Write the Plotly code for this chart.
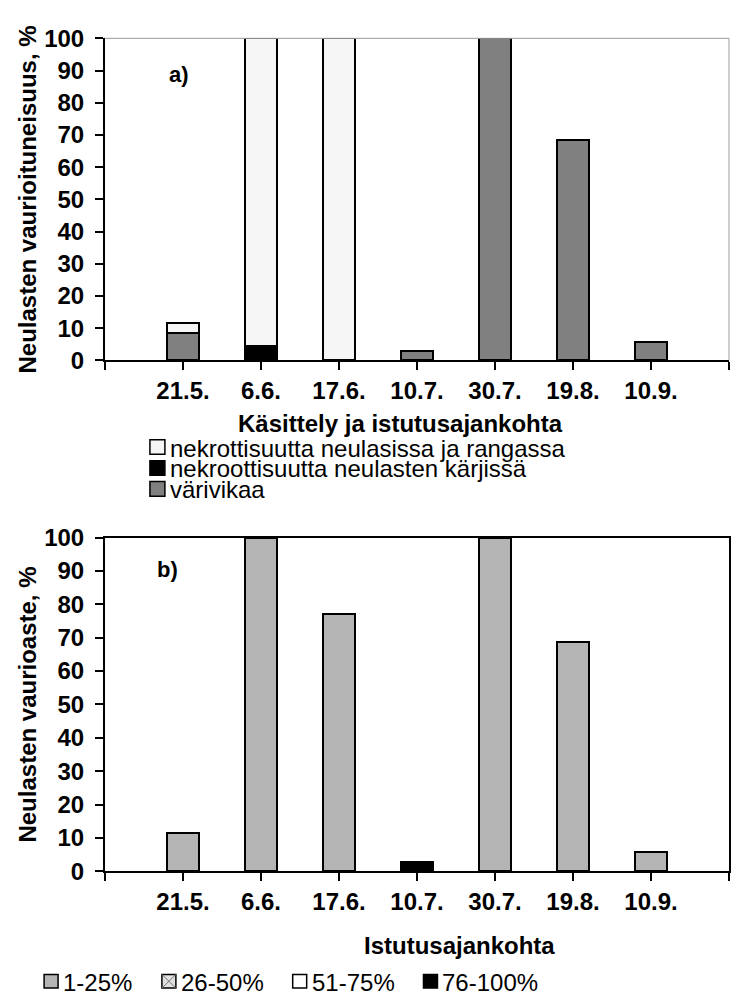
import plotly.graph_objects as go

# ---------------- data ----------------
categories = ["21.5.", "6.6.", "17.6.", "10.7.", "30.7.", "19.8.", "10.9."]

# a) Käsittely ja istutusajankohta
a_varivikaa = [8.5, 0, 0, 2.8, 100, 68.5, 5.6]
a_karjissa = [0, 4.6, 0, 0, 0, 0, 0]
a_rangassa = [3.0, 95.4, 100, 0, 0, 0, 0]
a_names = ["nekrottisuutta neulasissa ja rangassa",
           "nekroottisuutta neulasten kärjissä",
           "värivikaa"]

# b) Istutusajankohta
b_1_25 = [11.6, 100, 77.1, 0, 100, 68.6, 5.8]
b_26_50 = [0, 0, 0, 0, 0, 0, 0]
b_51_75 = [0, 0, 0, 0, 0, 0, 0]
b_76_100 = [0, 0, 0, 2.9, 0, 0, 0]
b_names = ["1-25%", "26-50%", "51-75%", "76-100%"]

ytick_vals = [0, 10, 20, 30, 40, 50, 60, 70, 80, 90, 100]

# ---------------- layout helpers ----------------
W, H = 731, 1005
ML, MR = 105, 1
PW = W - ML - MR
FONT = "Liberation Sans, Arial, sans-serif"


def px(x):
    return (x - ML) / PW


def py(y):
    return 1 - y / H


def nz(vals):
    return [v if v else None for v in vals]


xpos = list(range(len(categories)))
tickvals_x = [-1] + xpos + [len(categories)]
ticktext_x = [""] + categories + [""]

fig = go.Figure()
LW = 2

# a) stacked: gray bottom, black, white top
fig.add_bar(x=xpos, y=nz(a_varivikaa), width=0.4, name=a_names[2],
            marker=dict(color="#808080", line=dict(color="black", width=LW)),
            xaxis="x", yaxis="y")
fig.add_bar(x=xpos, y=nz(a_karjissa), width=0.4, name=a_names[1],
            marker=dict(color="black", line=dict(color="black", width=LW)),
            xaxis="x", yaxis="y")
fig.add_bar(x=xpos, y=nz(a_rangassa), width=0.4, name=a_names[0],
            marker=dict(color="#f6f6f6", line=dict(color="black", width=LW)),
            xaxis="x", yaxis="y")

# b)
fig.add_bar(x=xpos, y=nz(b_1_25), width=0.4, name=b_names[0],
            marker=dict(color="#b4b4b4", line=dict(color="black", width=LW)),
            xaxis="x2", yaxis="y2")
fig.add_bar(x=xpos, y=nz(b_26_50), width=0.4, name=b_names[1],
            marker=dict(color="#d8d8d8", line=dict(color="black", width=LW)),
            xaxis="x2", yaxis="y2")
fig.add_bar(x=xpos, y=nz(b_51_75), width=0.4, name=b_names[2],
            marker=dict(color="white", line=dict(color="black", width=LW)),
            xaxis="x2", yaxis="y2")
fig.add_bar(x=xpos, y=nz(b_76_100), width=0.4, name=b_names[3],
            marker=dict(color="black", line=dict(color="black", width=LW)),
            xaxis="x2", yaxis="y2")

tickfont = dict(family=FONT, size=24, color="black", weight="bold")

xcommon = dict(range=[-1, len(categories)], tickmode="array",
               tickvals=tickvals_x, ticktext=ticktext_x,
               showline=True, linecolor="black", linewidth=2,
               ticks="outside", ticklen=8, tickwidth=2, tickcolor="black",
               tickfont=tickfont, showgrid=False, zeroline=False,
               ticklabelstandoff=0, fixedrange=True)
ycommon = dict(range=[0, 100], tickmode="array", tickvals=ytick_vals,
               showline=True, linecolor="black", linewidth=2,
               ticks="outside", ticklen=8, tickwidth=2, tickcolor="black",
               tickfont=tickfont, showgrid=False, zeroline=False,
               ticklabelstandoff=6, fixedrange=True)

fig.update_layout(
    width=W, height=H,
    margin=dict(l=ML, r=MR, t=0, b=0),
    paper_bgcolor="white", plot_bgcolor="white",
    barmode="stack", showlegend=False,
    font=dict(family=FONT, color="black"),
    xaxis=dict(domain=[0, 1], anchor="y", **xcommon),
    yaxis=dict(domain=[py(356), py(25)], anchor="x", **ycommon),
    xaxis2=dict(domain=[0, 1], anchor="y2", mirror=True, **xcommon),
    yaxis2=dict(domain=[py(881), py(538)], anchor="x2", mirror=True, **ycommon),
)

# light gray frame (top and right) of chart a)
shapes = [
    dict(type="line", xref="x domain", yref="y domain", x0=0, x1=1, y0=1, y1=1,
         line=dict(color="#9a9a9a", width=1)),
    dict(type="line", xref="x domain", yref="y domain", x0=1, x1=1, y0=0, y1=1,
         line=dict(color="#9a9a9a", width=1)),
]

ann = []


def text(s, x, y, size=24, bold=False, xanchor="left", angle=0):
    ann.append(dict(text=s, x=px(x), y=py(y), xref="paper", yref="paper",
                    xanchor=xanchor, yanchor="middle", showarrow=False,
                    textangle=angle,
                    font=dict(family=FONT, size=size, color="black",
                              weight="bold" if bold else "normal")))


text("a)", 167, 62, size=22, bold=True)
text("b)", 155, 571, size=22, bold=True)
text("Neulasten vaurioituneisuus, %", 27, 190.5, bold=True, xanchor="center", angle=-90)
text("Neulasten vaurioaste, %", 27, 709.5, bold=True, xanchor="center", angle=-90)
text("Käsittely ja istutusajankohta", 401, 421, bold=True, xanchor="center")
text("Istutusajankohta", 460, 957, bold=True, xanchor="center")

# legend a) (vertical)
leg_a = [(a_names[0], "#f6f6f6"), (a_names[1], "black"), (a_names[2], "#808080")]
for i, (name, col) in enumerate(leg_a):
    yc = 445 + i * 21.5
    shapes.append(dict(type="rect", xref="paper", yref="paper",
                       x0=px(150), x1=px(165), y0=py(yc + 7.5), y1=py(yc - 7.5),
                       fillcolor=col, line=dict(color="black", width=1.5)))
    text(name, 168, yc + 1, size=24)

# legend b) (horizontal)
leg_b = [(b_names[0], "#b4b4b4", 44), (b_names[1], "#e0e0e0", 162),
         (b_names[2], "white", 293), (b_names[3], "black", 424)]
yb = 994
for name, col, bx in leg_b:
    shapes.append(dict(type="rect", xref="paper", yref="paper",
                       x0=px(bx), x1=px(bx + 14), y0=py(yb + 7), y1=py(yb - 7),
                       fillcolor=col, line=dict(color="black", width=1.5)))
    if name == b_names[1]:
        for (xa, ya, xb, yb2) in [(bx, yb - 7, bx + 14, yb + 7), (bx, yb + 7, bx + 14, yb - 7)]:
            shapes.append(dict(type="line", xref="paper", yref="paper",
                               x0=px(xa), y0=py(ya), x1=px(xb), y1=py(yb2),
                               line=dict(color="#777777", width=1)))
    text(name, bx + 17, yb + 1, size=24)

fig.update_layout(shapes=shapes, annotations=ann)
fig.write_html("out.html")
